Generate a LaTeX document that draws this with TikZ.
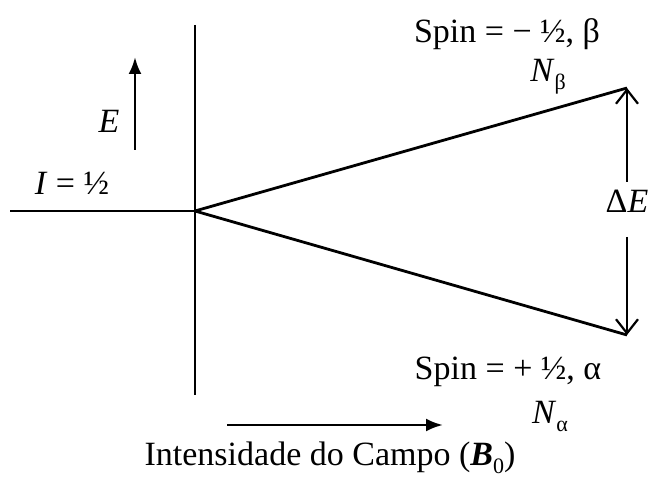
\documentclass[tikz,border=0pt]{standalone}
\usepackage{fontspec}
\setmainfont{Liberation Serif}
\usetikzlibrary{arrows.meta}
\newcommand{\subtxt}[1]{\raisebox{-0.22em}{\fontsize{22}{22}\selectfont #1}}
\tikzset{
  line/.style={line width=2.8pt},
  filledarrow/.style={line width=2.8pt,-{Latex[length=17pt,width=13pt]}},
  openarrow/.style={line width=2.2pt,-{Straight Barb[length=14pt,width=22pt,line width=2.2pt]}},
  lbl/.style={anchor=base,inner sep=0pt,font=\fontsize{34}{40}\selectfont}
}
\begin{document}
\begin{tikzpicture}[x=1pt,y=-1pt]
\useasboundingbox (0,0) rectangle (649,478);
% axes
\coordinate (vtop) at (195,25);
\coordinate (vbot) at (195,395);
\coordinate (hleft) at (10,211);
\coordinate (O) at (195,211);
\coordinate (beta) at (627,88);
\coordinate (alpha) at (627,335);
\draw[line] (vtop) -- (vbot);
\draw[line] (hleft) -- (O);
\draw[line] (O) -- (beta);
\draw[line] (O) -- (alpha);
% energy arrow
\coordinate (Es) at (135,150);
\coordinate (Ee) at (135,57);
\draw[filledarrow] (Es) -- (Ee);
\node[lbl] (Elbl) at (109,133) {\itshape E};
\node[lbl] (Ilbl) at (72,195) {\itshape I\/\upshape~=~½};
% Delta E
\node[lbl] (dE) at (627,213) {Δ\itshape E};
\coordinate (dEu) at (627,182);
\coordinate (dEd) at (627,237);
\draw[openarrow] (dEu) -- (beta);
\draw[openarrow] (dEd) -- (alpha);
% spin labels
\node[lbl] (sb) at (507,43) {Spin = − ½, β};
\node[lbl] (nb) at (548,82) {\itshape N\/\upshape\subtxt{β}};
\node[lbl] (sa) at (508,380) {Spin = + ½, α};
\node[lbl] (na) at (550,424) {\itshape N\/\upshape\subtxt{α}};
% field arrow
\coordinate (Fs) at (227,425);
\coordinate (Fe) at (443,425);
\draw[filledarrow] (Fs) -- (Fe);
\node[lbl] (field) at (330,466) {Intensidade do Campo ({\bfseries\itshape B}\subtxt{0})};
\end{tikzpicture}
\end{document}
